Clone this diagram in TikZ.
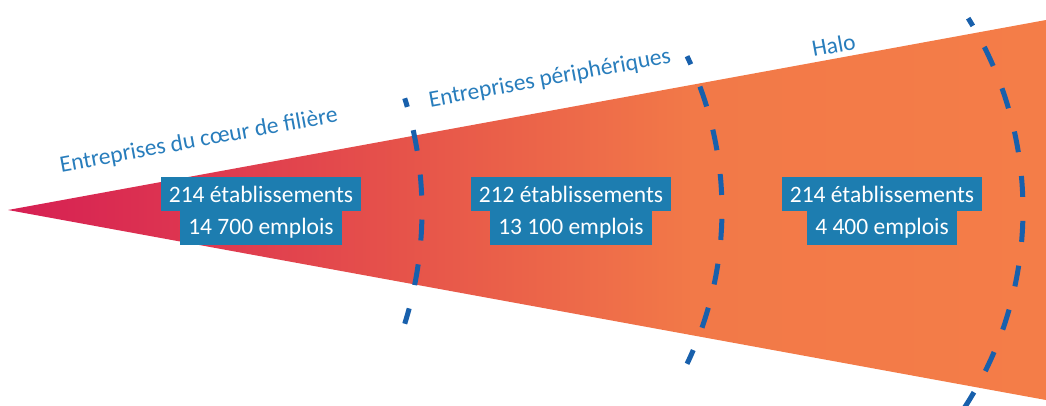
\documentclass[tikz,border=0pt]{standalone}
\usepackage{fontspec}
\setmainfont{Carlito}
\usetikzlibrary{positioning}
\definecolor{coneA}{RGB}{214,31,83}
\definecolor{coneB}{RGB}{222,56,80}
\definecolor{coneC}{RGB}{230,83,74}
\definecolor{coneD}{RGB}{242,121,72}
\definecolor{coneE}{RGB}{244,125,72}
\definecolor{boxblue}{RGB}{29,125,176}
\definecolor{labelblue}{RGB}{40,125,188}
\definecolor{limitblue}{RGB}{24,96,172}
\pgfdeclarehorizontalshading{cone}{100bp}{color(0bp)=(coneA); color(25bp)=(coneA);
  color(34.5bp)=(coneB); color(44bp)=(coneC); color(58bp)=(coneD); color(75bp)=(coneE);
  color(100bp)=(coneE)}
\tikzset{
  effectif/.style={fill=boxblue, text=white, inner xsep=8pt, inner ysep=0pt,
    minimum height=34pt, font=\fontsize{23.5}{28}\selectfont},
  secteur/.style={text=labelblue, rotate=10.4, anchor=base, inner sep=0pt,
    font=\fontsize{23.5}{28}\selectfont},
  limite/.style={draw=limitblue, line width=5pt,
    dash pattern=on 21pt off 24pt, dash phase=12pt}
}

\begin{document}
\begin{tikzpicture}[x=1pt,y=-1pt]
  \useasboundingbox (0,0) rectangle (1046,405);
  \shade[shading=cone] (8,210) -- (1046,20) -- (1046,400) -- cycle;
  \draw[limite] (45,211) ++(-17.4:377) arc[start angle=-17.4, end angle=17.4, radius=377];
  \draw[limite] (366,210) ++(-25.6:356) arc[start angle=-25.6, end angle=25.6, radius=356];
  \draw[limite] (660,210) ++(-31.9:363) arc[start angle=-31.9, end angle=33.5, radius=363];
  \node[secteur] (coeur) at (200,147) {Entreprises du cœur de filière};
  \node[secteur] (peri) at (551,85) {Entreprises périphériques};
  \node[secteur] (halo) at (835,53) {Halo};
  \node[effectif] (coeurEtab) at (261,194) {214 établissements};
  \node[effectif, below=0pt of coeurEtab] (coeurEmpl) {14 700 emplois};
  \node[effectif] (periEtab) at (571,194) {212 établissements};
  \node[effectif, below=0pt of periEtab] (periEmpl) {13 100 emplois};
  \node[effectif] (haloEtab) at (882,194) {214 établissements};
  \node[effectif, below=0pt of haloEtab] (haloEmpl) {4 400 emplois};
\end{tikzpicture}
\end{document}
